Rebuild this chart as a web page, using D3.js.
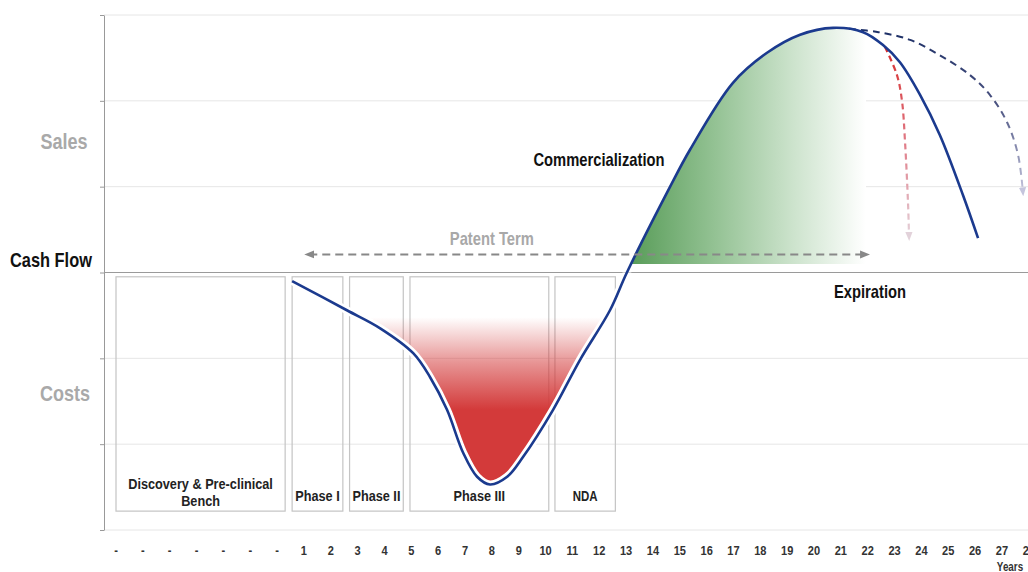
<!DOCTYPE html>
<html>
<head>
<meta charset="utf-8">
<script src="https://cdn.jsdelivr.net/npm/d3@7"></script>
<style>
  body { margin: 0; background: #fff; }
  text { font-family: "Liberation Sans", Arial, sans-serif; font-weight: bold; }
</style>
</head>
<body>
<div id="chart"></div>
<script>
// x labels (years, with dashes for the discovery period)
var xLabels = ['-', '-', '-', '-', '-', '-', '-',
  '1', '2', '3', '4', '5', '6', '7', '8', '9', '10', '11', '12', '13', '14',
  '15', '16', '17', '18', '19', '20', '21', '22', '23', '24', '25', '26', '27', '28'];
var xLabelYears = d3.range(-6, 29);

// cash flow curve (year, value in gridline units)
var cfYears  = [0.56, 2.6, 3.84, 5.07, 5.70, 6.33, 6.93, 7.45, 7.93, 8.57, 9.16, 10.28, 11.28, 12.40, 13.03,
  14.64, 15.38, 16.98, 18.25, 19.48, 20.71, 21.83, 22.57, 23.20, 23.95, 24.69, 25.55, 26.11];
var cfValues = [-0.10, -0.44, -0.65, -0.94, -1.22, -1.60, -2.10, -2.38, -2.47, -2.38, -2.15, -1.60, -1.02, -0.44, 0,
  1.0, 1.43, 2.21, 2.56, 2.77, 2.85, 2.80, 2.65, 2.45, 2.07, 1.60, 0.90, 0.40];

// extended exclusivity (dashed navy) and early generic entry (dashed red)
var extYears  = [21.3, 22.4, 23.58, 24.69, 25.81, 26.55, 27.19, 27.6, 27.78];
var extValues = [2.84, 2.80, 2.71, 2.53, 2.30, 2.07, 1.75, 1.37, 0.94];
var earlyYears  = [22.64, 23.09, 23.28, 23.39, 23.5, 23.54];
var earlyValues = [2.63, 2.30, 1.99, 1.52, 0.82, 0.42];

// development stage boxes
var stageNames = ['Discovery & Pre-clinical|Bench', 'Phase I', 'Phase II', 'Phase III', 'NDA'];
var stageStart = [-6.0, 0.56, 2.7, 4.95, 10.35];
var stageEnd   = [0.3, 2.45, 4.7, 10.12, 12.6];

// patent term
var patentStart = 1.05, patentEnd = 22.05;

var width = 1028, height = 572;
var svg = d3.select('#chart').append('svg').attr('width', width).attr('height', height);
var defs = svg.append('defs');

var x = d3.scaleLinear().domain([-6, 28]).range([116, 1028.8]);
var y = d3.scaleLinear().domain([-3, 3]).range([530, 15]);

// narrow bold text (compressed horizontally)
function label(parent, tx, ty, str, size, color, anchor) {
  return parent.append('text')
    .attr('transform', 'translate(' + tx + ',' + ty + ') scale(0.82,1)')
    .attr('text-anchor', anchor || 'middle')
    .attr('font-size', size).attr('fill', color).text(str);
}

// gridlines
svg.append('g').selectAll('line').data([-3, -2, -1, 1, 2, 3]).enter().append('line')
  .attr('x1', 104).attr('x2', width)
  .attr('y1', function(d) { return y(d); }).attr('y2', function(d) { return y(d); })
  .attr('stroke', '#e6e6e6').attr('stroke-width', 1);

// y axis
var yAxis = svg.append('g').attr('transform', 'translate(104,0)')
  .call(d3.axisLeft(y).tickValues([-3, -2, -1, 0, 1, 2, 3]).tickSize(4).tickSizeOuter(0).tickFormat(''));
yAxis.selectAll('path, line').attr('stroke', '#999');

// stage boxes
var stages = stageNames.map(function(n, i) { return {name: n, s: stageStart[i], e: stageEnd[i]}; });
svg.append('g').selectAll('rect').data(stages).enter().append('rect')
  .attr('x', function(d) { return x(d.s); })
  .attr('width', function(d) { return x(d.e) - x(d.s); })
  .attr('y', y(-0.05)).attr('height', y(-2.78) - y(-0.05))
  .attr('fill', 'none').attr('stroke', '#c4c4c4').attr('stroke-width', 1.2);

// gradients
var redGrad = defs.append('linearGradient').attr('id', 'redGrad')
  .attr('gradientUnits', 'userSpaceOnUse').attr('x1', 0).attr('x2', 0).attr('y1', y(-0.52)).attr('y2', y(-1.6));
redGrad.append('stop').attr('offset', 0).attr('stop-color', '#d33a3a').attr('stop-opacity', 0);
redGrad.append('stop').attr('offset', 0.5).attr('stop-color', '#d33a3a').attr('stop-opacity', 0.55);
redGrad.append('stop').attr('offset', 1).attr('stop-color', '#d33a3a').attr('stop-opacity', 1);

var greenGrad = defs.append('linearGradient').attr('id', 'greenGrad')
  .attr('gradientUnits', 'userSpaceOnUse').attr('x1', 630).attr('x2', 866).attr('y1', 0).attr('y2', 0);
greenGrad.append('stop').attr('offset', 0).attr('stop-color', 'rgb(88,156,88)');
greenGrad.append('stop').attr('offset', 0.35).attr('stop-color', 'rgb(146,193,146)');
greenGrad.append('stop').attr('offset', 0.7).attr('stop-color', 'rgb(206,228,206)');
greenGrad.append('stop').attr('offset', 1).attr('stop-color', '#ffffff');

var navyGrad = defs.append('linearGradient').attr('id', 'navyGrad')
  .attr('gradientUnits', 'userSpaceOnUse').attr('x1', 0).attr('x2', 0).attr('y1', y(2.84)).attr('y2', y(0.9));
navyGrad.append('stop').attr('offset', 0).attr('stop-color', '#1c2f66');
navyGrad.append('stop').attr('offset', 0.45).attr('stop-color', '#4a5280');
navyGrad.append('stop').attr('offset', 1).attr('stop-color', '#c9c9e0');

var pinkGrad = defs.append('linearGradient').attr('id', 'pinkGrad')
  .attr('gradientUnits', 'userSpaceOnUse').attr('x1', 0).attr('x2', 0).attr('y1', y(2.65)).attr('y2', y(0.4));
pinkGrad.append('stop').attr('offset', 0).attr('stop-color', '#d62a2a');
pinkGrad.append('stop').attr('offset', 0.5).attr('stop-color', '#e07a86');
pinkGrad.append('stop').attr('offset', 1).attr('stop-color', '#e4d4dc');

// clip regions for the fills
defs.append('clipPath').attr('id', 'clipRed').append('rect')
  .attr('x', 0).attr('y', y(-0.52)).attr('width', width).attr('height', height);
defs.append('clipPath').attr('id', 'clipGreen').append('rect')
  .attr('x', 0).attr('y', 0).attr('width', 866).attr('height', y(0.1));
defs.append('clipPath').attr('id', 'clipNeg').append('rect')
  .attr('x', 0).attr('y', y(0)).attr('width', width).attr('height', height);

var cf = cfYears.map(function(t, i) { return {t: t, v: cfValues[i]}; });

var redArea = d3.area().curve(d3.curveCatmullRom)
  .x(function(d) { return x(d.t); }).y0(y(-0.52)).y1(function(d) { return y(d.v); });
svg.append('path').datum(cf.filter(function(d) { return d.t >= 2.6 && d.t <= 13.03; }))
  .attr('d', redArea).attr('fill', 'url(#redGrad)').attr('clip-path', 'url(#clipRed)');

var greenArea = d3.area().curve(d3.curveCatmullRom)
  .x(function(d) { return x(d.t); }).y0(y(0.1)).y1(function(d) { return y(d.v); });
svg.append('path').datum(cf.filter(function(d) { return d.t >= 12.4 && d.t <= 22.57; }))
  .attr('d', greenArea).attr('fill', 'url(#greenGrad)').attr('clip-path', 'url(#clipGreen)');

// cash flow zero line
svg.append('line').attr('x1', 104).attr('x2', width).attr('y1', y(0)).attr('y2', y(0))
  .attr('stroke', '#9a9a9a').attr('stroke-width', 1.2);

// markers
function marker(id, color, w) {
  defs.append('marker').attr('id', id).attr('viewBox', '0 0 10 10').attr('refX', 5).attr('refY', 5)
    .attr('markerWidth', w).attr('markerHeight', w).attr('markerUnits', 'userSpaceOnUse').attr('orient', 'auto-start-reverse')
    .append('path').attr('d', 'M0,1 L10,5 L0,9 Z').attr('fill', color);
}
marker('arrGray', '#888', 10);
marker('arrNavy', '#c5c5dd', 9);
marker('arrPink', '#e2d2da', 9);

var line = d3.line().curve(d3.curveCatmullRom)
  .x(function(d) { return x(d.t); }).y(function(d) { return y(d.v); });

// dashed scenario lines
svg.append('path').datum(extYears.map(function(t, i) { return {t: t, v: extValues[i]}; }))
  .attr('d', line).attr('fill', 'none').attr('stroke', 'url(#navyGrad)').attr('stroke-width', 2)
  .attr('stroke-dasharray', '7,5').attr('marker-end', 'url(#arrNavy)');
svg.append('path').datum(earlyYears.map(function(t, i) { return {t: t, v: earlyValues[i]}; }))
  .attr('d', line).attr('fill', 'none').attr('stroke', 'url(#pinkGrad)').attr('stroke-width', 2.2)
  .attr('stroke-dasharray', '6,4').attr('marker-end', 'url(#arrPink)');

// main curve with white halo on the cost side
svg.append('path').datum(cf).attr('d', line).attr('fill', 'none')
  .attr('stroke', '#fff').attr('stroke-width', 8).attr('clip-path', 'url(#clipNeg)');
svg.append('path').datum(cf).attr('d', line).attr('fill', 'none')
  .attr('stroke', '#1b3a8e').attr('stroke-width', 2.6);

// patent term arrow
svg.append('line').attr('x1', x(patentStart) + 4).attr('x2', x(patentEnd) - 4)
  .attr('y1', y(0.21)).attr('y2', y(0.21))
  .attr('stroke', '#888').attr('stroke-width', 2).attr('stroke-dasharray', '8,5')
  .attr('marker-start', 'url(#arrGray)').attr('marker-end', 'url(#arrGray)');
label(svg, x(8.0), 245, 'Patent Term', 18, '#a8a8a8');

// stage labels
stages.forEach(function(d) {
  var parts = d.name.split('|');
  var cx = (x(d.s) + x(d.e)) / 2;
  var y0 = parts.length > 1 ? 489 : 501;
  var size = d.name === 'NDA' ? 14 : 15.5;
  parts.forEach(function(p, i) {
    label(svg, cx, y0 + i * 17, p, size, '#222');
  });
});

// x labels
xLabels.forEach(function(d, i) {
  label(svg, x(xLabelYears[i]), 555, d, 13.5, '#333');
});
label(svg, 1010, 571, 'Years', 12, '#333');

// side labels
label(svg, 64, 149, 'Sales', 22, '#a9a9a9');
label(svg, 65, 401, 'Costs', 22, '#a9a9a9');
label(svg, 10, 267, 'Cash Flow', 20, '#111', 'start');

// annotations
label(svg, 599, 166, 'Commercialization', 18, '#111');
label(svg, 870, 298, 'Expiration', 18, '#111');
</script>
</body>
</html>
